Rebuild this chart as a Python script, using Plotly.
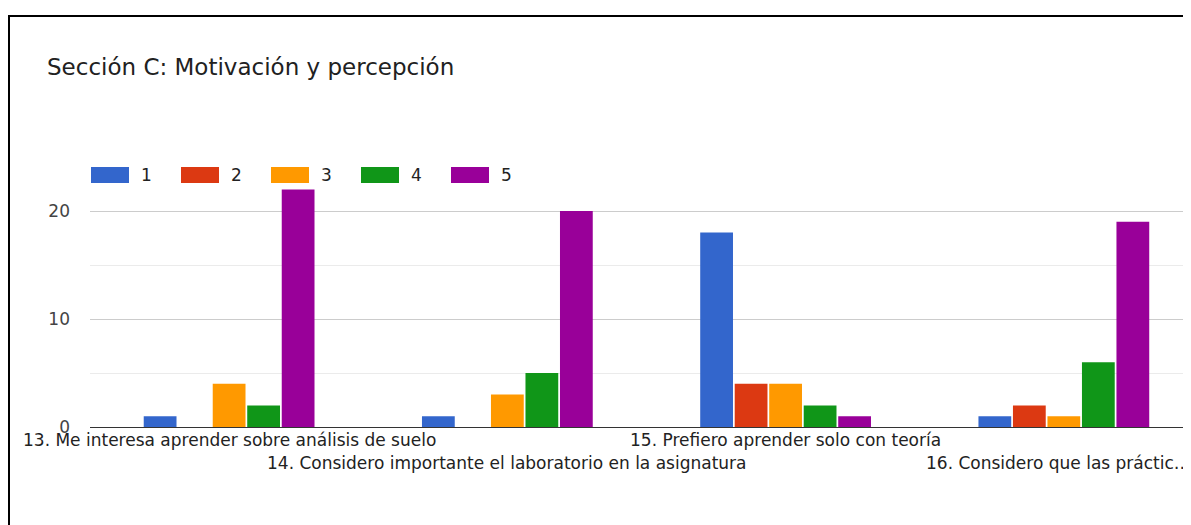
import plotly.graph_objects as go

# Survey answers (count of respondents per Likert value)
categories = [
    "13. Me interesa aprender sobre análisis de suelo",
    "14. Considero importante el laboratorio en la asignatura",
    "15. Prefiero aprender solo con teoría",
    "16. Considero que las práctic…",
]
series_names = ["1", "2", "3", "4", "5"]
values_1 = [1, 1, 18, 1]
values_2 = [0, 0, 4, 2]
values_3 = [4, 3, 4, 1]
values_4 = [2, 5, 2, 6]
values_5 = [22, 20, 1, 19]
colors = ["#3366cc", "#dc3912", "#ff9900", "#109618", "#990099"]

# the page body has an 8px margin, so the figure is drawn 8px in from the window edge
OFF = 8
W, H = 1191 - OFF, 525 - OFF
L, R, T, B = 82, 0, 149, 98
pw, ph = W - L - R, H - T - B
FONT = "DejaVu Sans"


def px(xw):
    # window pixel -> paper x
    return (xw - OFF - L) / pw


def py(yw):
    # window pixel -> paper y
    return (H - B - (yw - OFF)) / ph


fig = go.Figure()
for name, vals, col in zip(series_names, [values_1, values_2, values_3, values_4, values_5], colors):
    fig.add_trace(go.Bar(x=categories, y=vals, name=name, marker=dict(color=col, line_width=0)))

shapes = [
    # outer frame of the screenshot
    dict(type="rect", xref="paper", yref="paper", x0=px(9), x1=px(1300), y0=py(700), y1=py(16),
         line=dict(color="black", width=2), layer="above"),
]
annotations = []
# hand-made legend with wide swatches
for i, (name, col) in enumerate(zip(series_names, colors)):
    x0 = 91 + i * 90
    shapes.append(dict(type="rect", xref="paper", yref="paper", x0=px(x0), x1=px(x0 + 38),
                       y0=py(183), y1=py(167), fillcolor=col, line_width=0))
    annotations.append(dict(xref="paper", yref="paper", x=px(x0 + 48), y=py(175), text=name,
                            showarrow=False, xanchor="left", yanchor="middle",
                            font=dict(family=FONT, size=17, color="#222")))

# category labels staggered on two rows
for i, cat in enumerate(categories):
    annotations.append(dict(xref="x", yref="paper", x=cat, y=0, text=cat, showarrow=False,
                            xanchor="center", yanchor="top", yshift=-0.5 - 23 * (i % 2),
                            xshift=-5 if i == len(categories) - 1 else 0,
                            font=dict(family=FONT, size=17, color="#222")))

fig.update_layout(
    width=W, height=H,
    margin=dict(l=L, r=R, t=T, b=B),
    paper_bgcolor="white", plot_bgcolor="white",
    title=dict(text="Sección C: Motivación y percepción", x=(47 - OFF) / W, xref="container",
               xanchor="left", y=1 - (67 - OFF) / H, yref="container", yanchor="middle",
               font=dict(family=FONT, size=23, color="#212121")),
    showlegend=False,
    barmode="group", bargap=0.38, bargroupgap=0.05,
    shapes=shapes, annotations=annotations,
    xaxis=dict(range=[-0.5, 3.457], showticklabels=False, showgrid=False, zeroline=False,
               showline=False, ticks=""),
    yaxis=dict(range=[0, 25], tickvals=[0, 10, 20], showgrid=True, gridcolor="#cccccc",
               minor=dict(tickvals=[5, 15, 25], showgrid=True, gridcolor="#ebebeb"),
               zeroline=True, zerolinecolor="#333333", zerolinewidth=1,
               ticks="", ticklabelstandoff=19,
               tickfont=dict(family=FONT, size=17, color="#444")),
)

fig.write_html("out.html")
